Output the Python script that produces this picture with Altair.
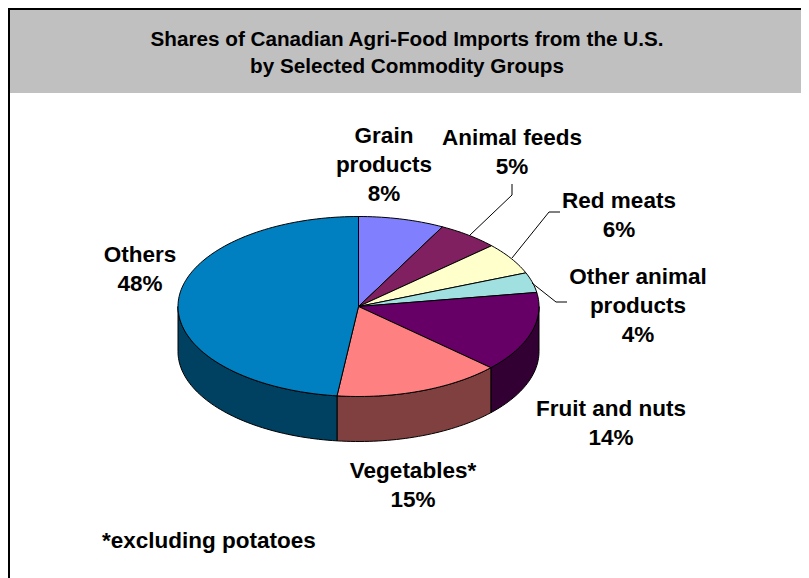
import math
import altair as alt

# ---- chart values ----
categories = ["Grain products", "Animal feeds", "Red meats", "Other animal products",
              "Fruit and nuts", "Vegetables*", "Others"]
label_lines = [["Grain", "products"], ["Animal feeds"], ["Red meats"],
               ["Other animal", "products"], ["Fruit and nuts"], ["Vegetables*"], ["Others"]]
shown_percent = [8, 5, 6, 4, 14, 15, 48]
drawn_share = [7.7, 5.5, 5.7, 3.6, 14.4, 15.0, 48.1]
top_colors = ["#8080FF", "#802060", "#FFFFCC", "#A0E0E0", "#660066", "#FF8080", "#0080C0"]
side_colors = ["#404080", "#401030", "#808066", "#507070", "#330033", "#804040", "#004060"]
title_lines = ["Shares of Canadian Agri-Food Imports from the U.S.", "by Selected Commodity Groups"]
footnote = "*excluding potatoes"

# ---- layout (page pixels) ----
W, H = 801, 578   # the page's flex container limits the drawing to 793px wide
OX, OY = 8, 8
CX, CY, RX, RY, DEPTH = 358.5, 306.5, 180.5, 90.0, 45.0
label_anchor = [(384, 136), (512, 138), (619, 201), (638, 277), (611, 409), (413, 471), (140, 255)]
LINE_STEP = 29
leaders = [
    [(470, 235), (512, 195), (512, 184)],
    [(512, 258), (549, 212), (560, 212)],
    [(532, 283), (556, 302), (567, 302)],
]


def ell(t, dy=0.0):
    a = math.radians(t)
    return [CX + RX * math.sin(a), CY - RY * math.cos(a) + dy]


def arc(a, b, dy=0.0):
    n = max(2, int(abs(b - a) / 1.5) + 1)
    return [ell(a + (b - a) * i / n, dy) for i in range(n + 1)]


def feature(ring, fill, stroke="none", sw=0.0):
    ring = ring + [ring[0]]
    return {"type": "Feature",
            "properties": {"fill": fill, "stroke": stroke, "sw": sw},
            "geometry": {"type": "Polygon", "coordinates": [ring]}}


def rect(x0, y0, x1, y1, fill):
    return feature([[x0, y0], [x1, y0], [x1, y1], [x0, y1]], fill)


features = [
    rect(8, 8, W, 93, "#C0C0C0"),
    rect(8, 8, W, 10, "#000000"),
    rect(8, 8, 10, H, "#000000"),
]

edges = []
acc = 0.0
for s in drawn_share:
    edges.append((acc * 3.6, (acc + s) * 3.6))
    acc += s

# side walls: only the front half of the disc shows its depth
for (a, b), col in zip(edges, side_colors):
    lo, hi = max(a, 90), min(b, 270)
    if lo < hi:
        features.append(feature(arc(lo, hi) + arc(hi, lo, DEPTH), col, "#000000", 1.0))
# top faces
for (a, b), col in zip(edges, top_colors):
    features.append(feature([[CX, CY]] + arc(a, b), col, "#000000", 1.0))

shapes = alt.Chart(alt.InlineData(
    values={"type": "FeatureCollection", "features": features},
    format=alt.DataFormat(type="json", property="features"),
)).mark_geoshape(strokeJoin="round").encode(
    fill=alt.Fill("properties.fill:N", scale=None),
    stroke=alt.Stroke("properties.stroke:N", scale=None),
    strokeWidth=alt.StrokeWidth("properties.sw:Q", scale=None),
).project(type="identity", scale=1, translate=[-OX, -OY])

xs = alt.Scale(domain=[OX, W], nice=False, zero=False)
ys = alt.Scale(domain=[H, OY], nice=False, zero=False)
X = lambda f: alt.X(f, scale=xs, axis=None)
Y = lambda f: alt.Y(f, scale=ys, axis=None)

label_rows = []
for lines, pct, (x, y) in zip(label_lines, shown_percent, label_anchor):
    for i, t in enumerate(lines + [f"{pct}%"]):
        label_rows.append({"x": x, "y": y + i * LINE_STEP, "t": t})

FONT = "Liberation Sans"
labels = alt.Chart(alt.Data(values=label_rows)).mark_text(
    font=FONT, fontWeight="bold", fontSize=22.5, color="#000000", baseline="middle", align="center"
).encode(x=X("x:Q"), y=Y("y:Q"), text="t:N")

title_rows = [{"x": 407, "y": 40, "t": title_lines[0]}, {"x": 407, "y": 67, "t": title_lines[1]}]
title = alt.Chart(alt.Data(values=title_rows)).mark_text(
    font=FONT, fontWeight="bold", fontSize=20.7, color="#000000", baseline="middle", align="center"
).encode(x=X("x:Q"), y=Y("y:Q"), text="t:N")

foot = alt.Chart(alt.Data(values=[{"x": 102, "y": 541, "t": footnote}])).mark_text(
    font=FONT, fontWeight="bold", fontSize=22.5, color="#000000", baseline="middle", align="left"
).encode(x=X("x:Q"), y=Y("y:Q"), text="t:N")

leader_rows = []
for k, pts in enumerate(leaders):
    for j, (x, y) in enumerate(pts):
        leader_rows.append({"x": x, "y": y, "k": k, "j": j})
lead = alt.Chart(alt.Data(values=leader_rows)).mark_line(
    color="#000000", strokeWidth=1
).encode(x=X("x:Q"), y=Y("y:Q"), detail="k:N", order="j:Q")

chart = alt.layer(shapes, lead, labels, title, foot).properties(
    width=W - OX, height=H - OY, padding=0,
    autosize=alt.AutoSizeParams(type="none"),
    background="white",
).configure_view(stroke=None)

chart.save("out.html", embed_options={"renderer": "svg", "actions": False})
